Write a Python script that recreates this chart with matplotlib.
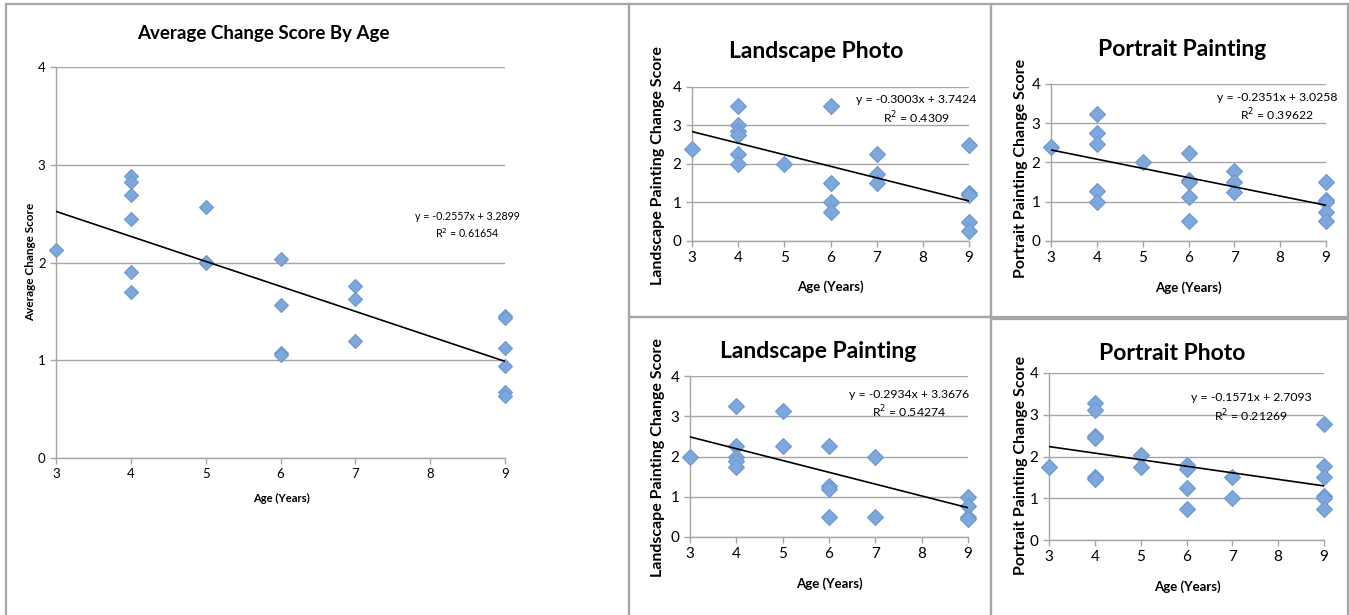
import matplotlib
matplotlib.use("Agg")
import matplotlib.pyplot as plt
from matplotlib.patches import Rectangle

plt.rcParams["font.family"] = ["Lato", "DejaVu Sans"]

W, H = 1349, 615

# data
avg_age = [3, 4, 4, 4, 4, 4, 4, 5, 5, 5, 6, 6, 6, 6, 7, 7, 7, 9, 9, 9, 9, 9, 9]
avg_score = [2.13, 2.88, 2.82, 2.69, 2.44, 1.90, 1.70, 2.57, 2.01, 1.99, 2.04, 1.57,
             1.07, 1.05, 1.76, 1.63, 1.20, 1.45, 1.43, 1.13, 0.94, 0.68, 0.63]

lphoto_age = [3, 4, 4, 4, 4, 4, 4, 5, 6, 6, 6, 6, 7, 7, 7, 9, 9, 9, 9, 9]
lphoto_score = [2.38, 3.5, 3.0, 2.87, 2.75, 2.25, 2.0, 2.0, 3.5, 1.5, 1.0, 0.75,
                2.25, 1.75, 1.5, 2.5, 1.25, 1.2, 0.5, 0.25]

ppaint_age = [3, 4, 4, 4, 4, 4, 5, 6, 6, 6, 6, 6, 7, 7, 7, 9, 9, 9, 9, 9]
ppaint_score = [2.4, 3.23, 2.76, 2.48, 1.27, 1.0, 2.0, 2.25, 1.55, 1.5, 1.13, 0.5,
                1.79, 1.5, 1.25, 1.5, 1.05, 1.0, 0.75, 0.5]

lpaint_age = [3, 4, 4, 4, 4, 4, 5, 5, 6, 6, 6, 6, 7, 7, 9, 9, 9, 9]
lpaint_score = [2.0, 3.25, 2.26, 2.0, 1.9, 1.75, 3.12, 2.25, 2.25, 1.26, 1.2, 0.5,
                2.0, 0.5, 1.0, 0.76, 0.5, 0.45]

pphoto_age = [3, 4, 4, 4, 4, 4, 4, 5, 5, 6, 6, 6, 6, 7, 7, 9, 9, 9, 9, 9, 9]
pphoto_score = [1.75, 3.28, 3.12, 2.5, 2.45, 1.5, 1.47, 2.03, 1.74, 1.79, 1.71, 1.25,
                0.75, 1.5, 1.0, 2.77, 1.77, 1.5, 1.05, 1.0, 0.75]

titles = ["Average Change Score By Age", "Landscape Photo", "Portrait Painting",
          "Landscape Painting", "Portrait Photo"]
ylabels = ["Average Change Score", "Landscape Painting Change Score",
           "Portrait Painting Change Score", "Landscape Painting Change Score",
           "Portrait Painting Change Score"]
slopes = [-0.2557, -0.3003, -0.2351, -0.2934, -0.1571]
intercepts = [3.2899, 3.7424, 3.0258, 3.3676, 2.7093]
r2_text = ["0.61654", "0.4309", "0.39622", "0.54274", "0.21269"]

series = [(avg_age, avg_score), (lphoto_age, lphoto_score), (ppaint_age, ppaint_score),
          (lpaint_age, lpaint_score), (pphoto_age, pphoto_score)]

# layout in pixels
plot_box = [(56, 67, 505, 458), (692, 87, 969, 241), (1051, 84, 1326, 241),
            (690, 376, 968, 537), (1049, 373, 1324, 540)]
panel_box = [(6, 4, 629, 640), (629, 4, 991, 317), (991, 4, 1348, 317),
             (629, 317, 991, 640), (991, 319, 1348, 640)]
title_pos = [(263, 34), (816, 52), (1182, 49), (818, 352), (1172, 354)]
xlabel_pos = [(281, 498), (830, 287), (1188, 288), (829, 584), (1187, 587)]
ylabel_pos = [(31, 262), (658, 166), (1021, 168), (658, 458), (1021, 465)]
eq_pos = [(8.5, 2.38), (7.85, 3.40), (7.93, 3.40), (7.73, 3.29), (7.41, 3.17)]

fig = plt.figure(figsize=(W / 100, H / 100), dpi=100)

grey = "#a6a6a6"
for i in range(5):
    big = i == 0
    x0, y0, x1, y1 = panel_box[i]
    fig.add_artist(Rectangle((x0 / W, 1 - y1 / H), (x1 - x0) / W, (y1 - y0) / H,
                             transform=fig.transFigure, fill=False,
                             edgecolor=grey, linewidth=1.6))

    l, t, r, b = plot_box[i]
    ax = fig.add_axes([l / W, 1 - b / H, (r - l) / W, (b - t) / H])
    ax.set_xlim(3, 9)
    ax.set_ylim(0, 4)
    ax.set_xticks(range(3, 10))
    ax.set_yticks(range(0, 5))
    for s in ["top", "right"]:
        ax.spines[s].set_visible(False)
    for s in ["left", "bottom"]:
        ax.spines[s].set_color(grey)
        ax.spines[s].set_linewidth(1.0)
    ax.grid(axis="y", color=grey, linewidth=1.0)
    ax.set_axisbelow(True)
    ax.tick_params(colors=grey, length=4, width=1.0,
                   labelcolor="black", labelsize=9.5 if big else 11)
    ax.patch.set_alpha(0)

    xs, ys = series[i]
    ax.plot(xs, ys, linestyle="none", marker="D", markersize=7 if big else 8,
            markerfacecolor="#7ea8dc", markeredgecolor="#6b98d0",
            markeredgewidth=0.8, clip_on=False, zorder=3)
    ax.plot([3, 9], [slopes[i] * 3 + intercepts[i], slopes[i] * 9 + intercepts[i]],
            color="black", linewidth=1.2, zorder=4)
    ax.text(eq_pos[i][0], eq_pos[i][1],
            "y = %.4fx + %.4f\nR$^2$ = %s" % (slopes[i], intercepts[i], r2_text[i]),
            ha="center", va="center", multialignment="center",
            fontsize=7.7 if big else 8.8, linespacing=1.3, zorder=5)

    tx, ty = title_pos[i]
    fig.text(tx / W, 1 - ty / H, titles[i], ha="center", va="center",
             fontsize=13.5 if big else 16.5, fontweight="bold")
    lx, ly = xlabel_pos[i]
    fig.text(lx / W, 1 - ly / H, "Age (Years)", ha="center", va="center",
             fontsize=8 if big else 9.5, fontweight="bold")
    vx, vy = ylabel_pos[i]
    fig.text(vx / W, 1 - vy / H, ylabels[i], ha="center", va="center",
             rotation=90, fontsize=8.5 if big else 11.5, fontweight="bold")

fig.savefig("out.png", dpi=100, facecolor="white")
